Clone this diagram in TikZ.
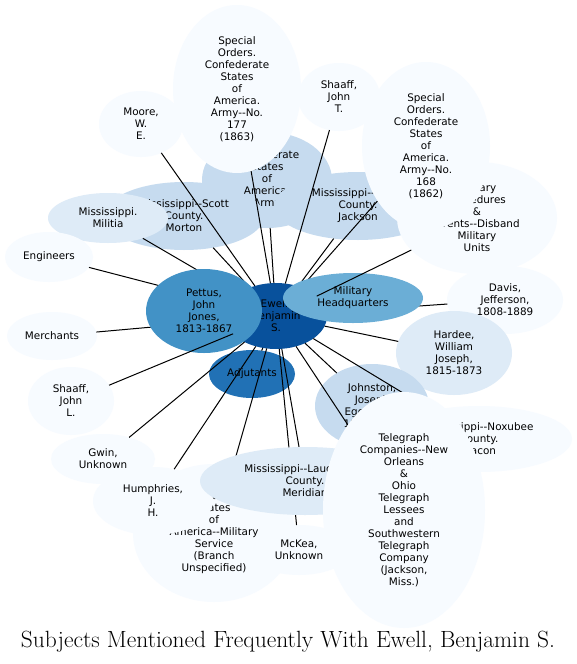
\documentclass[tikz,border=0pt]{standalone}
\usepackage{fontspec}
\newfontfamily\nodefont{DejaVu Sans}
\usetikzlibrary{shapes.geometric}
\definecolor{c1}{HTML}{08519C}
\definecolor{c2}{HTML}{2171B5}
\definecolor{c3}{HTML}{4292C6}
\definecolor{c4}{HTML}{6BAED6}
\definecolor{c5}{HTML}{C6DBEF}
\definecolor{c6}{HTML}{DEEBF7}
\definecolor{c7}{HTML}{F7FBFF}
\pgfdeclarelayer{bg}
\pgfdeclarelayer{la}
\pgfdeclarelayer{lb}
\pgfdeclarelayer{lc}
\pgfdeclarelayer{ld}
\pgfsetlayers{bg,la,lb,lc,ld,main}
\newcommand\bub[8]{\begin{pgfonlayer}{#1}\node[bubble, fill=#7, minimum width={1.5*#5pt}, minimum height={1.5*#6pt}] (#2) at (#3,#4) {};\node[txt] at (#2) {#8};\end{pgfonlayer}}
\begin{document}
\begin{tikzpicture}[x=0.75pt,y=-0.75pt,
  bubble/.style={ellipse, draw=none, inner sep=0pt, outer sep=0pt},
  txt/.style={align=center, inner sep=0pt, font=\nodefont\fontsize{7.8}{9}\selectfont, text=black},
  edge/.style={draw=black, line width=0.75pt},
  title/.style={font=\fontsize{17.6}{20}\selectfont, inner sep=0pt}]
\begin{pgfonlayer}{bg}
\fill[white] (0,0) rectangle (576,664);
\end{pgfonlayer}
\useasboundingbox (0,0) rectangle (576,664);
% layer a
\bub{la}{confarmy}{267}{180}{65}{48}{c5}{Confederate\\States\\of\\America.\\Army}
\bub{la}{scott}{184}{216}{80}{34}{c5}{Mississippi--Scott\\County.\\Morton}
\bub{la}{militia}{108}{218}{60}{25}{c6}{Mississippi.\\Militia}
\bub{la}{hinds}{358}{206}{84}{34}{c5}{Mississippi--Hinds\\County.\\Jackson}
\bub{la}{milproc}{477}{218}{80}{56}{c7}{Military\\Procedures\\\&\\Events--Disband\\Military\\Units}
\bub{la}{moore}{141}{124}{42}{33}{c7}{Moore,\\W.\\E.}
\bub{la}{shaafft}{339}{97}{41}{34}{c7}{Shaaff,\\John\\T.}
\bub{la}{engineers}{49}{257}{44}{25}{c7}{Engineers}
\bub{la}{merchants}{52}{336}{45}{24}{c7}{Merchants}
\bub{la}{davis}{505}{300}{58}{34}{c7}{Davis,\\Jefferson,\\1808-1889}
\bub{la}{hardee}{454}{353}{58}{42}{c6}{Hardee,\\William\\Joseph,\\1815-1873}
\bub{la}{johnston}{372}{406}{57}{42}{c5}{Johnston,\\Joseph\\Eggleston,\\1807-1891}
\bub{la}{noxubee}{479}{439}{93}{33}{c7}{Mississippi--Noxubee\\County.\\Macon}
\bub{la}{shaaffl}{71}{401}{43}{34}{c7}{Shaaff,\\John\\L.}
\bub{la}{gwin}{103}{459}{52}{25}{c7}{Gwin,\\Unknown}
\bub{la}{confmil}{214}{533}{81}{69}{c7}{Confederate\\States\\of\\America--Military\\Service\\(Branch\\Unspecified)}
\bub{la}{humphries}{153}{501}{60}{34}{c7}{Humphries,\\J.\\H.}
\bub{la}{mckea}{299}{550}{52}{25}{c7}{McKea,\\Unknown}
\bub{la}{adjutants}{252}{374}{43}{24}{c2}{Adjutants}
\bub{la}{ewell}{276}{316}{51}{33}{c1}{Ewell,\\Benjamin\\S.}
% layer c
\bub{lc}{so177}{237}{89}{64}{84}{c7}{Special\\Orders.\\Confederate\\States\\of\\America.\\Army--No.\\177\\(1863)}
\bub{lc}{so168}{426}{146}{64}{84}{c7}{Special\\Orders.\\Confederate\\States\\of\\America.\\Army--No.\\168\\(1862)}
\bub{lc}{pettus}{204}{311}{58}{42}{c3}{Pettus,\\John\\Jones,\\1813-1867}
\bub{lc}{mhq}{353}{298}{70}{25}{c4}{Military\\Headquarters}
\bub{lc}{lauderdale}{305}{481}{105}{34}{c6}{Mississippi--Lauderdale\\County.\\Meridian}
\bub{lc}{telegraph}{404}{510}{81}{118}{c7}{Telegraph\\Companies--New\\Orleans\\\&\\Ohio\\Telegraph\\Lessees\\and\\Southwestern\\Telegraph\\Company\\(Jackson,\\Miss.)}
% edges under upper nodes
\begin{pgfonlayer}{lb}
\foreach \n in {militia,engineers,merchants,scott,davis,mckea,noxubee,moore,so177,confarmy,shaafft,hinds,so168,hardee,johnston,telegraph,gwin,humphries,confmil,lauderdale,pettus,mhq,adjutants}
  \draw[edge] (ewell) -- (\n);
\end{pgfonlayer}
% edges over upper nodes
\begin{pgfonlayer}{ld}
\draw[edge] (ewell) -- (shaaffl);
\draw[edge] (ewell) -- (milproc);
\end{pgfonlayer}
\node[title] (ttl) at (288,642) {Subjects Mentioned Frequently With Ewell, Benjamin S.};
\end{tikzpicture}
\end{document}
